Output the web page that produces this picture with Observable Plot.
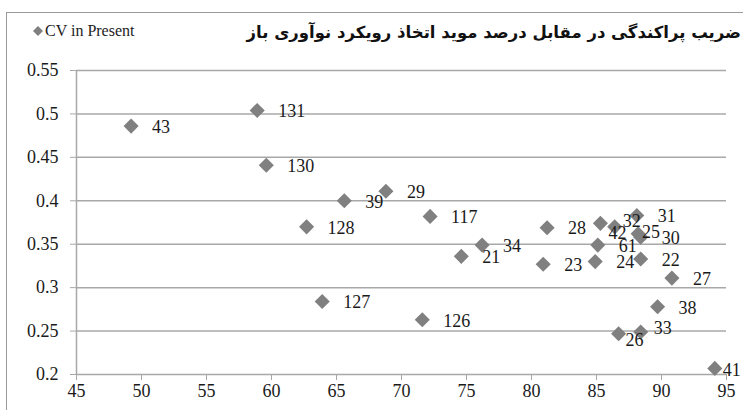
<!DOCTYPE html>
<html><head><meta charset="utf-8">
<script src="https://cdn.jsdelivr.net/npm/d3@7"></script>
<script src="https://cdn.jsdelivr.net/npm/@observablehq/plot@0.6"></script>
<style>
html,body{margin:0;padding:0;background:#fff;}
#wrap{position:relative;width:743px;height:410px;overflow:hidden;background:#fff;}
#frame{position:absolute;left:6px;top:12px;width:800px;height:500px;border:1.5px solid #9a9a9a;box-sizing:border-box;}
#chart{position:absolute;left:0;top:0;}
#legend{position:absolute;left:33px;top:22px;font:16px "Liberation Serif";color:#222;white-space:nowrap;display:flex;align-items:center;}
#legend svg{margin-right:2px;}
#title{position:absolute;right:2px;top:23px;font:bold 16.5px "DejaVu Sans";color:#111;direction:rtl;white-space:nowrap;}
</style></head><body>
<div id="wrap"><div id="frame"></div><div id="chart"></div>
<div id="legend"><svg width="10" height="10" viewBox="0 0 10 10"><polygon points="5,0 10,5 5,10 0,5" fill="#808080"/></svg>CV in Present</div>
<div id="title">ضریب پراکندگی در مقابل درصد موید اتخاذ رویکرد نوآوری باز</div>
</div>
<script>
const labels = ["43","131","130","39","29","117","128","21","34","127","126","28","23","42","32","25","31","30","61","24","22","27","38","26","33","41"];
const percent = [49.2,58.9,59.6,65.6,68.8,72.2,62.7,74.6,76.2,63.9,71.6,81.2,80.9,85.3,86.4,88.2,88.1,88.4,85.1,84.9,88.4,90.8,89.7,86.7,88.4,94.1];
const cv = [0.486,0.504,0.441,0.400,0.411,0.382,0.370,0.336,0.349,0.284,0.263,0.369,0.327,0.374,0.370,0.362,0.383,0.358,0.349,0.330,0.333,0.311,0.278,0.247,0.249,0.207];
const xTicks = [45,50,55,60,65,70,75,80,85,90,95];
const yTicks = [0.2,0.25,0.3,0.35,0.4,0.45,0.5,0.55];

const rows = labels.map((l,i)=>({label:l,x:percent[i],y:cv[i]}));
// label nudges (px) for crowded labels; default placed to the right
const nudge = {"42":[8,9.5],"32":[8,-6],"25":[4,-2],"33":[13,-4],"26":[7,7],"41":[8,2]};
const groups = d3.group(rows, d => (nudge[d.label]||[21,1]).join(","));
const textMarks = [];
for (const [k,g] of groups) {
  const [dx,dy] = k.split(",").map(Number);
  textMarks.push(Plot.text(g,{x:"x",y:"y",text:"label",dx,dy,textAnchor:"start",fill:"#1a1a1a",fontSize:18}));
}
const grid = "#a8a8a8";
const chart = Plot.plot({
  width:743,height:410,marginLeft:76,marginRight:17,marginTop:70,marginBottom:36,
  style:{fontFamily:"Liberation Serif",fontSize:"18px",background:"transparent",color:"#1a1a1a"},
  x:{domain:[45,95]},
  y:{domain:[0.2,0.55]},
  marks:[
    Plot.gridY(yTicks,{stroke:grid,strokeOpacity:1,strokeWidth:1.5}),
    Plot.ruleX([45],{stroke:grid,strokeWidth:1.5}),
    Plot.axisX(xTicks,{tickSize:6,tickPadding:4,stroke:grid,fill:"#1a1a1a",label:null,tickFormat:d=>String(d),fontSize:18}),
    Plot.axisY(yTicks,{tickSize:6,tickPadding:12,stroke:grid,fill:"#1a1a1a",label:null,tickFormat:d=>String(+d.toFixed(2)),fontSize:18}),
    Plot.dot(rows,{x:"x",y:"y",symbol:"diamond2",r:6.8,fill:"#808080",stroke:"none"}),
    ...textMarks
  ]
});
document.getElementById("chart").appendChild(chart);
</script>
</body></html>
